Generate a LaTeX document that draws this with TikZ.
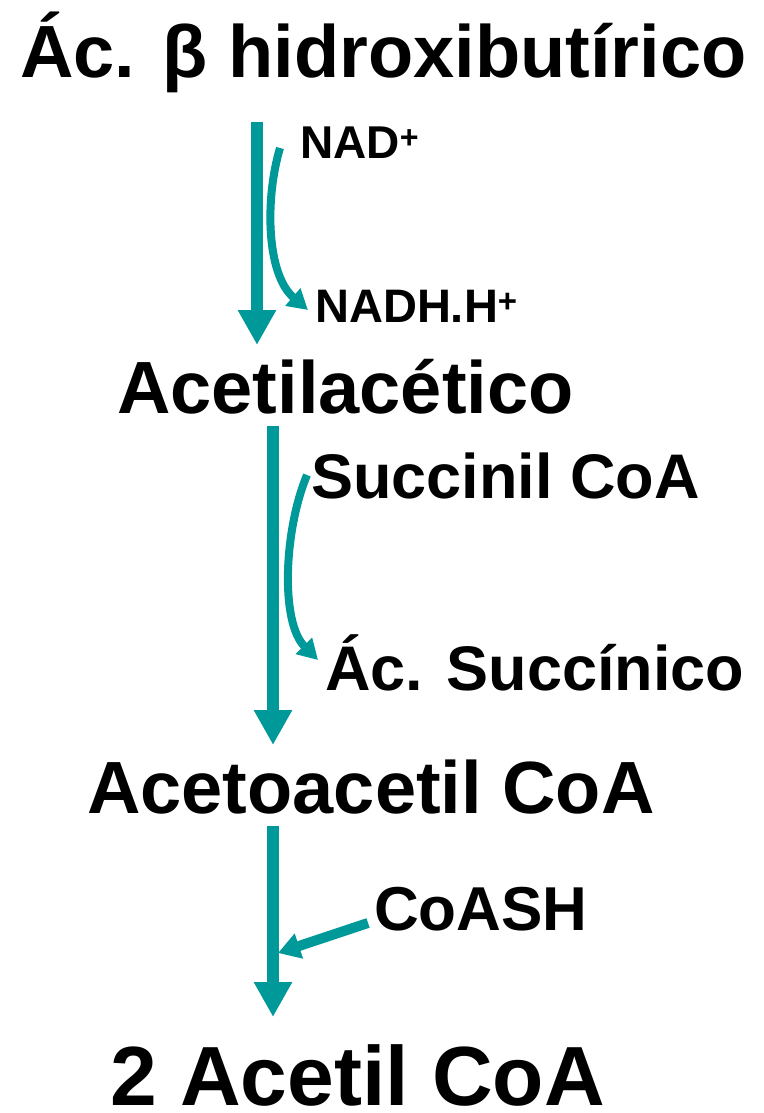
\documentclass[tikz,border=0pt]{standalone}
\usepackage{fontspec}
\setmainfont{Liberation Sans}
\usetikzlibrary{arrows.meta}
\definecolor{flowteal}{RGB}{0,153,153}
\newcommand{\fsz}[1]{\fontsize{#1}{#1}\selectfont}
\tikzset{
  lbl/.style={inner sep=0pt, anchor=base west, font=\bfseries},
  flow/.style={draw=flowteal, line width=12pt, -{Triangle[length=35pt,width=36pt]}},
  side/.style={draw=flowteal, line width=8pt, -{Triangle[length=20pt,width=22pt]}},
  sidestraight/.style={draw=flowteal, line width=10pt, -{Triangle[length=22pt,width=25pt]}},
}
\begin{document}
\begin{tikzpicture}[x=1pt,y=-1pt]
\useasboundingbox (0,0) rectangle (763,1113);
\fill[white] (0,0) rectangle (763,1113);

% compounds of the pathway
\node[lbl, anchor=base, font=\bfseries\fsz{74}] (hbut) at (383.5,78) {Ác. β hidroxibutírico};
\node[lbl, font=\bfseries\fsz{74}] (acac) at (117,413) {Acetilacético};
\node[lbl, font=\bfseries\fsz{74}] (acacoa) at (87,813) {Acetoacetil CoA};
\node[lbl, font=\bfseries\fsz{84}] (acoa) at (110,1105) {2 Acetil CoA};

% cofactors
\node[lbl, font=\bfseries\fsz{46}] (nad) at (300,158) {NAD\textsuperscript{+}};
\node[lbl, font=\bfseries\fsz{47}] (nadh) at (315,322) {NADH.H\textsuperscript{+}};
\node[lbl, font=\bfseries\fsz{63}] (succoa) at (311,498) {Succinil CoA};
\node[lbl, font=\bfseries\fsz{63}] (succ) at (325,690) {Ác. Succínico};
\node[lbl, font=\bfseries\fsz{62}] (coash) at (374,930) {CoASH};

% arrow end points
\coordinate (v1a) at (257,122);  \coordinate (v1b) at (257,345);
\coordinate (v2a) at (273,426);  \coordinate (v2b) at (273,745);
\coordinate (v3a) at (273,826);  \coordinate (v3b) at (273,1017);
\coordinate (c1a) at (280,148);  \coordinate (c1b) at (308,310);
\coordinate (c2a) at (307,475);  \coordinate (c2b) at (318,660);
\coordinate (c3a) at (368,923);  \coordinate (c3b) at (278,953);

% main reaction arrows
\draw[flow] (v1a) -- (v1b);
\draw[flow] (v2a) -- (v2b);
\draw[flow] (v3a) -- (v3b);

% cofactor arrows
\draw[side] (c1a) .. controls (265,198) and (266,274) .. (c1b);
\draw[side] (c2a) .. controls (284,530) and (280,622) .. (c2b);
\draw[sidestraight] (c3a) -- (c3b);
\end{tikzpicture}
\end{document}
